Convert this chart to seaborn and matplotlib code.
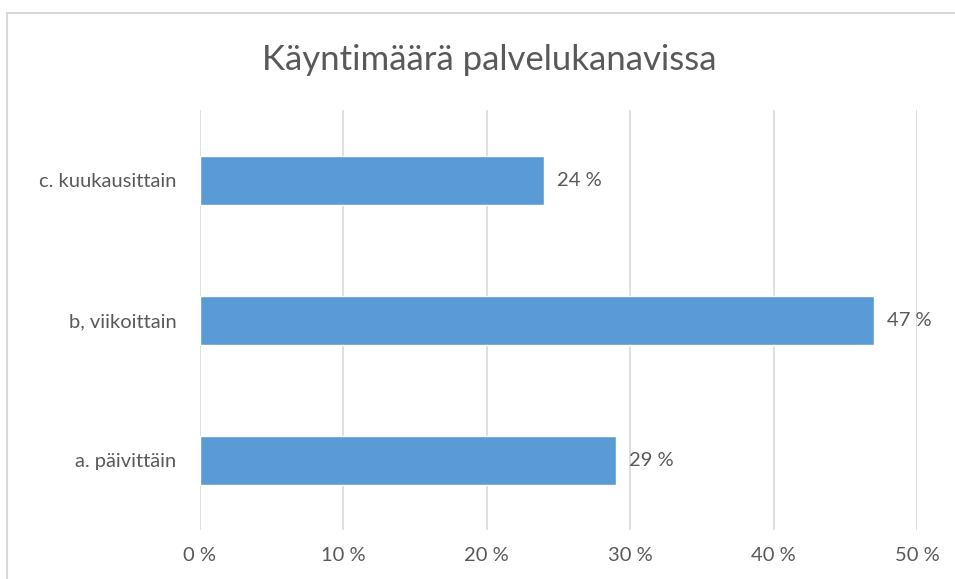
import matplotlib
matplotlib.use("Agg")
import matplotlib.pyplot as plt
import seaborn as sns
import pandas as pd
from matplotlib.patches import Rectangle

sns.set_style("white")
plt.rcParams['font.family'] = ['Lato', 'DejaVu Sans']

# data
categories = ["c. kuukausittain", "b, viikoittain", "a. päivittäin"]
values = [24, 47, 29]
ticks = [0, 10, 20, 30, 40, 50]
tick_labels = ["0 %", "10 %", "20 %", "30 %", "40 %", "50 %"]

df = pd.DataFrame({"cat": categories, "val": values})

grey = "#595959"
fig = plt.figure(figsize=(9.55, 5.79), dpi=100)
ax = fig.add_axes([0.2094, 0.0846, 0.7508, 0.7254])

sns.barplot(data=df, x="val", y="cat", color="#5B9BD5", saturation=1,
            width=0.35, orient="h", ax=ax, zorder=3)

ax.set_xlim(0, 50)
ax.set_ylim(2.5, -0.5)
ax.set_xticks(ticks)
ax.set_xticklabels(tick_labels)
ax.grid(axis="x", color="#D9D9D9", linewidth=1.2, zorder=0)
ax.set_axisbelow(True)
for s in ax.spines.values():
    s.set_visible(False)
ax.tick_params(length=0, labelsize=14.5, colors=grey)
ax.tick_params(axis="x", pad=12)
ax.tick_params(axis="y", pad=17)
ax.set_xlabel("")
ax.set_ylabel("")

for i, v in enumerate(values):
    ax.text(v + 0.9, i, f"{v} %", va="center", ha="left", fontsize=14.5, color=grey)

fig.text(0.512, 0.897, "Käyntimäärä palvelukanavissa", ha="center", va="center",
         fontsize=25, color=grey)

# chart border
fig.patches.append(Rectangle((7 / 955, -0.02), 1.1, (579 - 13) / 579 + 0.02,
                             transform=fig.transFigure, fill=False,
                             edgecolor="#D9D9D9", linewidth=1.5))

fig.savefig("out.png", dpi=100)
